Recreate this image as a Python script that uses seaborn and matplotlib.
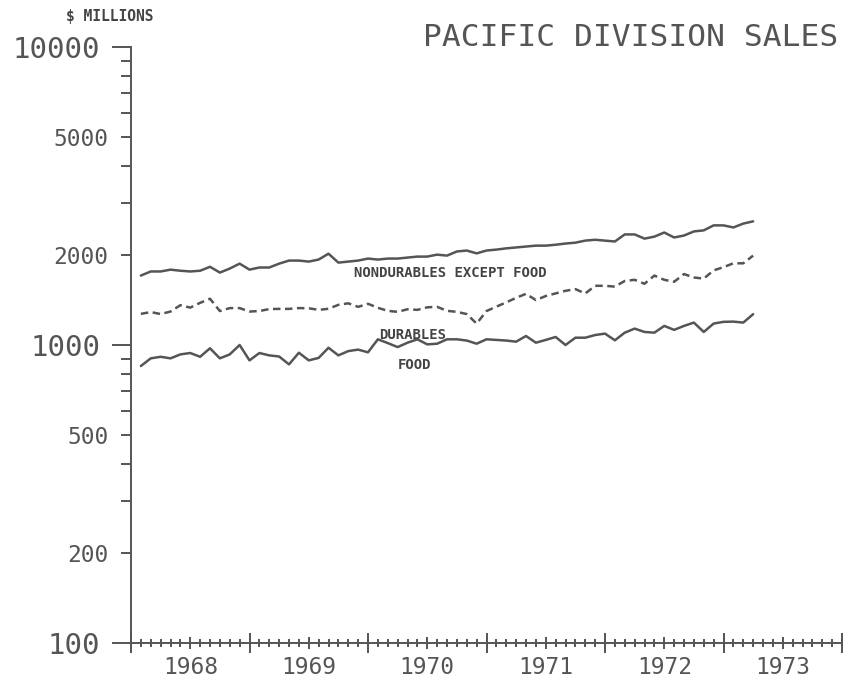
import numpy as np
import pandas as pd
import matplotlib
matplotlib.use('Agg')
import matplotlib.pyplot as plt
import seaborn as sns
from matplotlib.ticker import FixedLocator, FixedFormatter, FuncFormatter, NullFormatter

# monthly sales, Feb 1968 - Apr 1973 ($ millions)
months = pd.date_range('1968-02-01', periods=63, freq='MS')

nondurables = [1710, 1765, 1765, 1790, 1775, 1765, 1775, 1830, 1750, 1805, 1875, 1790, 1820, 1820, 1875, 1920,
               1920, 1905, 1935, 2025, 1890, 1905, 1920, 1950, 1935, 1950, 1950, 1965, 1980, 1980, 2010,
               1995, 2060, 2075, 2030, 2075, 2090, 2110, 2125, 2140, 2155, 2155, 2170, 2190, 2205, 2240, 2255,
               2240, 2225, 2350, 2350, 2275, 2310, 2385, 2295, 2330, 2405, 2425, 2520, 2520, 2480, 2555, 2600]
durables = [1272, 1290, 1270, 1295, 1360, 1335, 1385, 1430, 1300, 1330, 1330, 1295, 1300, 1320, 1322, 1322,
            1330, 1328, 1312, 1323, 1364, 1380, 1343, 1375, 1333, 1302, 1292, 1318, 1312, 1338, 1343, 1302,
            1292, 1270, 1180, 1300, 1345, 1390, 1440, 1485, 1415, 1460, 1490, 1520, 1540, 1489, 1580,
            1580, 1570, 1640, 1655, 1605, 1710, 1655, 1630, 1730, 1685, 1670, 1780, 1825, 1880, 1880, 1995]
food = [850, 902, 913, 902, 930, 940, 913, 975, 902, 930, 1000, 888, 940, 923, 915, 861,
        942, 888, 905, 979, 923, 954, 965, 945, 1045, 1015, 984, 1018, 1045, 1005, 1010,
        1045, 1045, 1035, 1010, 1045, 1040, 1035, 1026, 1072, 1018, 1040, 1064, 1000, 1058, 1058, 1080,
        1092, 1037, 1100, 1135, 1106, 1100, 1159, 1124, 1159, 1189, 1106, 1180, 1196, 1198, 1189, 1269]

years = [1968, 1969, 1970, 1971, 1972, 1973]
y_major = [100, 1000, 10000]
y_minor_labeled = [200, 500, 2000, 5000]

sns.set_style('ticks')
plt.rcParams['font.family'] = ['DejaVu Sans Mono', 'DejaVu Sans']

ink = '#555555'
df = pd.DataFrame({'t': months.year + (months.month - 1) / 12,
                   'nondurables': nondurables, 'durables': durables, 'food': food})

fig = plt.figure(figsize=(8.49, 6.82), dpi=100)
ax = fig.add_axes([131 / 849, 39 / 682, 711 / 849, 596 / 682])

sns.lineplot(data=df, x='t', y='nondurables', ax=ax, color=ink, linewidth=1.8)
sns.lineplot(data=df, x='t', y='durables', ax=ax, color=ink, linewidth=1.8, linestyle=(0, (3, 1.8)))
sns.lineplot(data=df, x='t', y='food', ax=ax, color=ink, linewidth=1.8)

# y axis: log scale
ax.set_yscale('log')
ax.set_ylim(100, 10000)
ax.yaxis.set_major_locator(FixedLocator(y_major))
ax.yaxis.set_major_formatter(FixedFormatter([str(v) for v in y_major]))
y_minor = [v * d for d in (100, 1000) for v in range(2, 10)]
ax.yaxis.set_minor_locator(FixedLocator(y_minor))
ax.yaxis.set_minor_formatter(FuncFormatter(lambda v, p: str(int(round(v))) if int(round(v)) in y_minor_labeled else ''))
ax.tick_params(axis='y', which='major', length=13.7, width=1.4, color=ink, labelcolor=ink, labelsize=21, pad=8.5)
ax.tick_params(axis='y', which='minor', length=7.2, width=1.4, color=ink, labelcolor=ink, labelsize=16.5, pad=9)

# x axis: years, monthly ticks
ax.set_xlim(1968, 1974)
ax.xaxis.set_major_locator(FixedLocator([y + 0.5 for y in years]))
ax.xaxis.set_major_formatter(FixedFormatter([str(y) for y in years]))
ax.xaxis.set_minor_locator(FixedLocator([1968 + i / 12 for i in range(73)]))
ax.xaxis.set_minor_formatter(NullFormatter())
ax.tick_params(axis='x', which='major', direction='inout', length=8.6, width=1.4, color=ink,
               labelcolor=ink, labelsize=16.5, pad=5)
ax.tick_params(axis='x', which='minor', direction='inout', length=5.8, width=1.4, color=ink)

sec = ax.secondary_xaxis('bottom')
sec.set_xticks(years + [1974])
sec.tick_params(direction='inout', length=13.7, width=1.4, color=ink, labelbottom=False)
sec.spines['bottom'].set_visible(False)

for s in ['top', 'right']:
    ax.spines[s].set_visible(False)
for s in ['left', 'bottom']:
    ax.spines[s].set_color(ink)
    ax.spines[s].set_linewidth(1.4)

ax.set_xlabel('')
ax.set_ylabel('')

# series labels
lab = dict(color='#444444', fontsize=10, fontweight='bold', ha='center', va='center')
ax.text(1970.694, 1744, 'NONDURABLES EXCEPT FOOD', **lab)
ax.text(1970.374, 1080, 'DURABLES', **lab)
ax.text(1970.39, 857, 'FOOD', **lab)

fig.text(838 / 849, 1 - 38 / 682, 'PACIFIC DIVISION SALES', ha='right', va='center',
         fontsize=22.5, color=ink)
fig.text(110 / 849, 1 - 17 / 682, '$ MILLIONS', ha='center', va='center',
         fontsize=10.5, fontweight='bold', color='#444444')

fig.savefig('out.png', dpi=100)
